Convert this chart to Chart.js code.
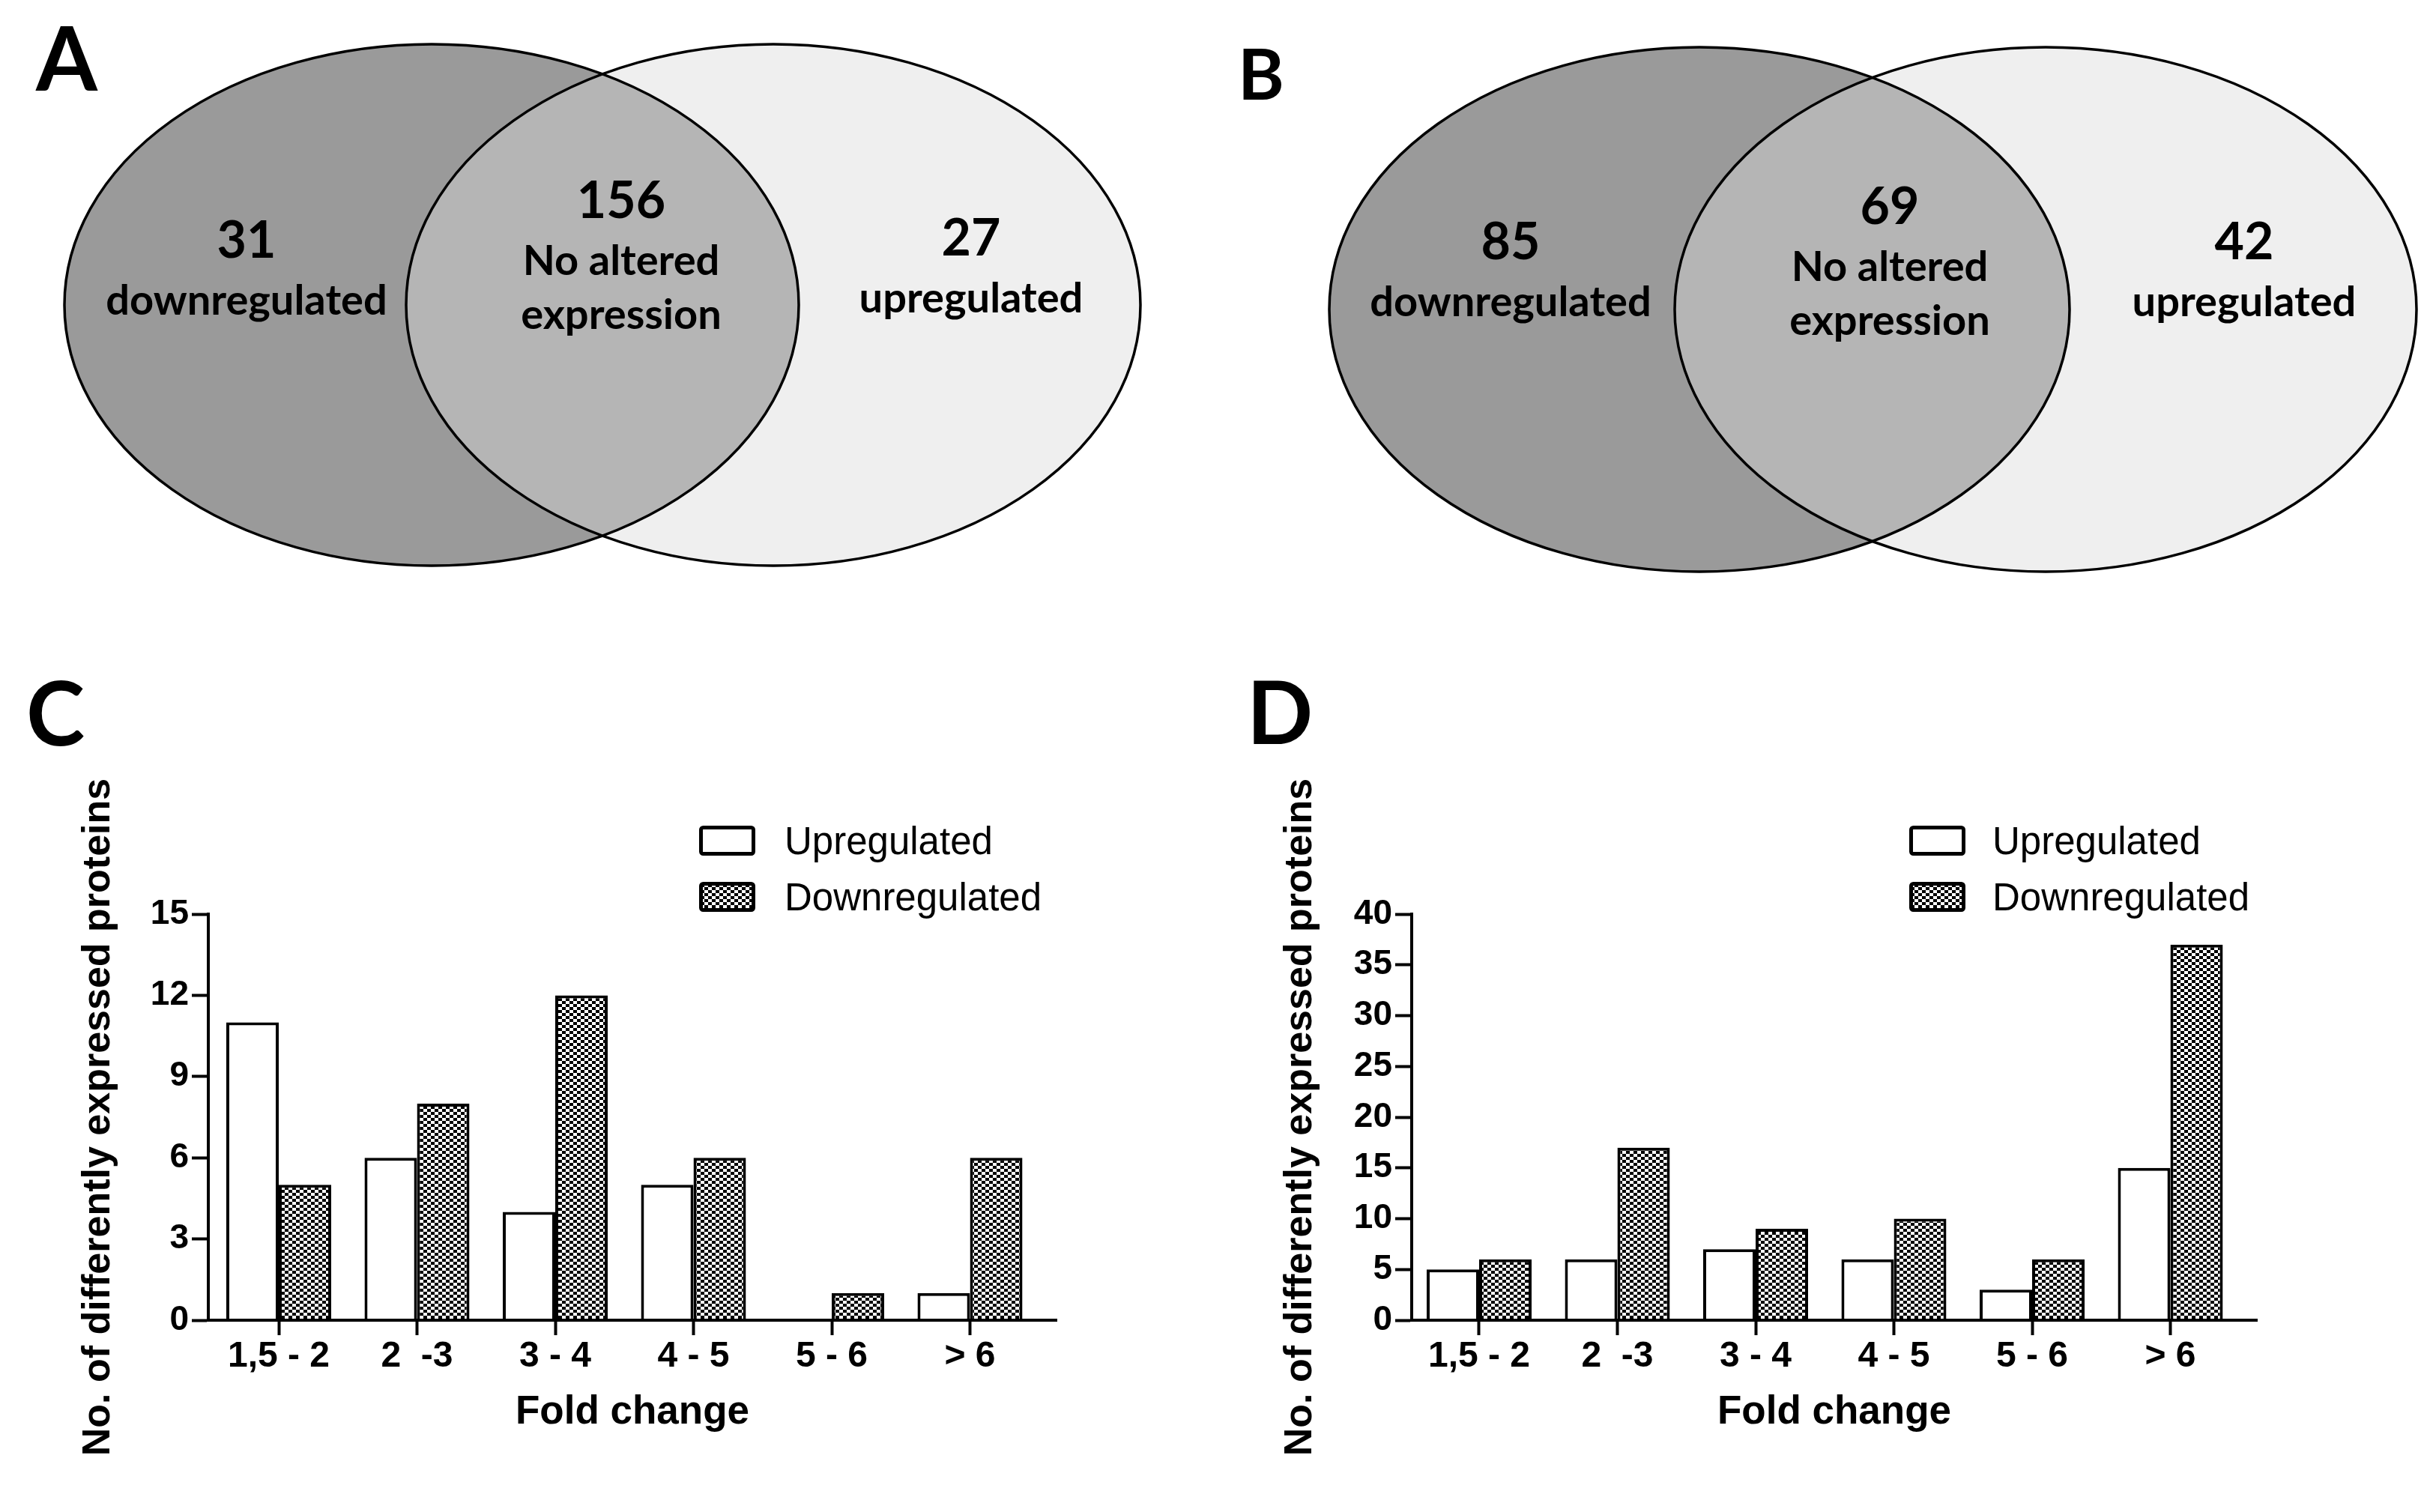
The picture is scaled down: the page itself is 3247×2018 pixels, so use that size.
<!DOCTYPE html>
<html lang="en">
<head>
<meta charset="UTF-8">
<title>Differentially expressed proteins</title>
<script src="https://cdn.jsdelivr.net/npm/chart.js@4.4.1/dist/chart.umd.min.js"></script>
<style>
    html, body { margin: 0; padding: 0; background: #fff; }
    #page { position: relative; width: 3247px; height: 2018px; overflow: hidden; background: #fff; }
    canvas { position: absolute; }
    .panel { position: absolute; font-family: Lato, sans-serif; font-weight: 700; line-height: 1; color: #000; }
</style>
</head>
<body>
<div id="page">
    <canvas id="vennA" width="1620" height="800" style="left:0; top:0;"></canvas>
    <canvas id="vennB" width="1627" height="800" style="left:1620px; top:0;"></canvas>
    <canvas id="barC" width="1640" height="1138" style="left:0; top:880px;"></canvas>
    <canvas id="barD" width="1607" height="1138" style="left:1640px; top:880px;"></canvas>

    <div class="panel" style="left:48px; top:17px; font-size:118px;">A</div>
    <div class="panel" style="left:1652px; top:50px; font-size:94px;">B</div>
    <div class="panel" style="left:35px; top:891px; font-size:118px;">C</div>
    <div class="panel" style="left:1664px; top:891px; font-size:116px;">D</div>
</div>

<script>
    // ---- data ----
    const vennNames = [['downregulated'], ['No altered', 'expression'], ['upregulated']];
    const vennA = [31, 156, 27];
    const vennB = [85, 69, 42];

    const foldLabels = ['1,5 - 2', '2  -3', '3 - 4', '4 - 5', '5 - 6', '> 6'];
    const seriesNames = ['Upregulated', 'Downregulated'];
    const upC = [11, 6, 4, 5, 0, 1];
    const downC = [5, 8, 12, 6, 1, 6];
    const upD = [5, 6, 7, 6, 3, 15];
    const downD = [6, 17, 9, 10, 6, 37];
    const ticksC = [0, 3, 6, 9, 12, 15];
    const ticksD = [0, 5, 10, 15, 20, 25, 30, 35, 40];

    Chart.defaults.font.family = '"Liberation Sans", Arial, sans-serif';
    Chart.defaults.color = '#000';

    // checker-dot fill used for the downregulated bars
    function dotPattern() {
        const t = document.createElement('canvas');
        t.width = 10; t.height = 8;
        const c = t.getContext('2d');
        c.fillStyle = '#fff';
        c.fillRect(0, 0, 10, 8);
        c.fillStyle = '#000';
        c.fillRect(0, 0, 5, 4);
        c.fillRect(5, 4, 5, 4);
        return c.createPattern(t, 'repeat');
    }
    const pattern = dotPattern();

    // venn: two ellipses, intersection shaded, counts written in each region
    const vennPlugin = {
        id: 'venn',
        beforeDatasetsDraw(chart, args, o) {
            const { x, y } = chart.scales;
            const ctx = chart.ctx;
            const ell = e => {
                const cx = x.getPixelForValue(e.cx), cy = y.getPixelForValue(e.cy);
                const rx = Math.abs(x.getPixelForValue(e.cx + e.rx) - cx);
                const ry = Math.abs(y.getPixelForValue(e.cy + e.ry) - cy);
                ctx.beginPath();
                ctx.ellipse(cx, cy, rx, ry, 0, 0, 2 * Math.PI);
            };
            const [L, R] = o.sets;
            ctx.save();
            ell(L); ctx.fillStyle = o.colors[0]; ctx.fill();
            ell(R); ctx.fillStyle = o.colors[2]; ctx.fill();
            ell(L); ctx.clip();
            ell(R); ctx.fillStyle = o.colors[1]; ctx.fill();
            ctx.restore();

            ctx.save();
            ctx.lineWidth = 3.5;
            ctx.strokeStyle = '#000';
            ell(L); ctx.stroke();
            ell(R); ctx.stroke();

            ctx.fillStyle = '#000';
            ctx.textAlign = 'center';
            ctx.textBaseline = 'alphabetic';
            o.counts.forEach((n, i) => {
                const a = o.anchors[i];
                const px = x.getPixelForValue(a.x);
                const py = y.getPixelForValue(a.y);
                ctx.font = 'bold 68px Lato';
                ctx.fillText(String(n), px, py);
                ctx.font = 'bold 56px Lato';
                o.names[i].forEach((line, j) => {
                    ctx.fillText(line, px, py + 76 + j * 72);
                });
            });
            ctx.restore();
        }
    };

    function venn(id, counts, w, h, sets, anchors) {
        return new Chart(document.getElementById(id), {
            type: 'scatter',
            data: { datasets: [{ data: [] }] },
            options: {
                responsive: false,
                animation: false,
                devicePixelRatio: 1,
                layout: { padding: 0 },
                plugins: {
                    legend: { display: false },
                    tooltip: { enabled: false },
                    venn: {
                        sets: sets,
                        anchors: anchors,
                        counts: counts,
                        names: vennNames,
                        colors: ['#9a9a9a', '#b5b5b5', '#efefef']
                    }
                },
                scales: {
                    x: { type: 'linear', min: 0, max: w, display: false },
                    y: { type: 'linear', min: 0, max: h, reverse: true, display: false }
                }
            },
            plugins: [vennPlugin]
        });
    }

    venn('vennA', vennA, 1620, 800,
        [{ cx: 576, cy: 407, rx: 490, ry: 348 }, { cx: 1032, cy: 407, rx: 490, ry: 348 }],
        [{ x: 329, y: 344 }, { x: 829, y: 291 }, { x: 1296, y: 341 }]);
    venn('vennB', vennB, 1627, 800,
        [{ cx: 648, cy: 413, rx: 494, ry: 350 }, { cx: 1110, cy: 413, rx: 495, ry: 350 }],
        [{ x: 396, y: 346 }, { x: 902, y: 299 }, { x: 1375, y: 346 }]);

    // legend drawn as two stacked boxes above the plot
    const boxLegend = {
        id: 'boxLegend',
        afterDraw(chart, args, o) {
            const ctx = chart.ctx;
            chart.data.datasets.forEach((ds, i) => {
                const top = o.top + i * o.step;
                ctx.save();
                ctx.beginPath();
                ctx.roundRect(o.left + 2.5, top + 2.5, 70, 35, 3);
                ctx.fillStyle = ds.backgroundColor;
                ctx.fill();
                ctx.lineWidth = 5;
                ctx.strokeStyle = '#000';
                ctx.stroke();
                ctx.fillStyle = '#000';
                ctx.font = '51px "Liberation Sans"';
                ctx.textBaseline = 'alphabetic';
                ctx.fillText(ds.label, o.textX, top + 38);
                ctx.restore();
            });
        }
    };

    function barChart(id, up, down, yTicks, g) {
        const toPts = arr => arr.map((v, i) => ({ x: i, y: v }));
        const common = { borderColor: '#000', borderWidth: 4, categoryPercentage: 0.759, barPercentage: 1 };
        return new Chart(document.getElementById(id), {
            type: 'bar',
            data: {
                datasets: [
                    Object.assign({ label: seriesNames[0], data: toPts(up), backgroundColor: '#fff' }, common),
                    Object.assign({ label: seriesNames[1], data: toPts(down), backgroundColor: pattern }, common)
                ]
            },
            options: {
                responsive: false,
                animation: false,
                devicePixelRatio: 1,
                layout: { padding: { left: 0, top: g.top, right: g.right, bottom: 0 } },
                plugins: {
                    legend: { display: false },
                    tooltip: { enabled: false },
                    boxLegend: { left: g.legLeft, textX: g.legText, top: 222, step: 75 }
                },
                scales: {
                    x: {
                        type: 'linear',
                        offset: false,
                        min: g.xMin,
                        max: g.xMax,
                        afterBuildTicks: s => { s.ticks = foldLabels.map((_, i) => ({ value: i })); },
                        afterFit: s => { s.height = g.xHeight; },
                        ticks: {
                            callback: v => foldLabels[v],
                            font: { size: 48, weight: 'bold' },
                            color: '#000',
                            padding: 0,
                            maxRotation: 0,
                            autoSkip: false
                        },
                        grid: { offset: false, drawOnChartArea: false, tickLength: 20, tickWidth: 4, tickColor: '#000', z: 1 },
                        border: { color: '#000', width: 4, z: 1 },
                        title: {
                            display: true,
                            text: 'Fold change',
                            font: { size: 53, weight: 'bold' },
                            color: '#000',
                            padding: { top: 0, bottom: 101 }
                        }
                    },
                    y: {
                        min: 0,
                        max: yTicks[yTicks.length - 1],
                        afterBuildTicks: s => { s.ticks = yTicks.map(v => ({ value: v })); },
                        afterFit: s => { s.width = g.yWidth; },
                        ticks: { font: { size: 46, weight: 'bold' }, color: '#000', padding: 4 },
                        grid: { drawOnChartArea: false, tickLength: 22, tickWidth: 4, tickColor: '#000', z: 1 },
                        border: { color: '#000', width: 4, z: 1 },
                        title: {
                            display: true,
                            text: 'No. of differently expressed proteins',
                            font: { size: 52, weight: 'bold' },
                            color: '#000',
                            padding: { top: g.yTitlePad, bottom: 0 }
                        }
                    }
                }
            },
            plugins: [boxLegend]
        });
    }

    barChart('barC', upC, downC, ticksC, {
        top: 340, right: 230, xHeight: 256, yWidth: 278,
        xMin: -0.5095, xMax: 5.626, yTitlePad: 100,
        legLeft: 933, legText: 1047
    });
    barChart('barD', upD, downD, ticksD, {
        top: 340, right: 235, xHeight: 256, yWidth: 244,
        xMin: -0.4878, xMax: 5.626, yTitlePad: 64,
        legLeft: 908, legText: 1019
    });
</script>
</body>
</html>
